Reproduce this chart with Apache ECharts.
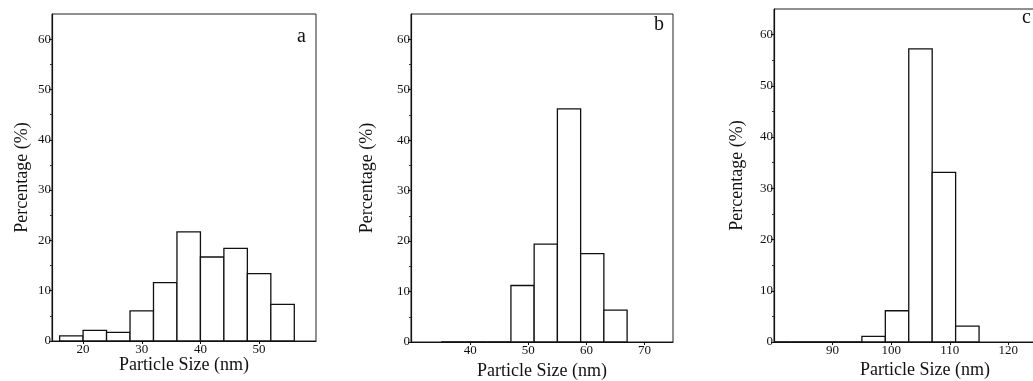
<!DOCTYPE html>
<html>
<head>
<meta charset="utf-8">
<script src="https://cdn.jsdelivr.net/npm/echarts@6/dist/echarts.min.js"></script>
<style>
html,body{margin:0;padding:0;background:#fff;}
#chart{width:1033px;height:381px;}
</style>
</head>
<body>
<div id="chart"></div>
<script>
// ---- data ----
var binWidth = 4;
// panel a
var aStarts = [16, 20, 24, 28, 32, 36, 40, 44, 48, 52];
var aValues = [1.0, 2.1, 1.7, 6.0, 11.6, 21.7, 16.7, 18.4, 13.4, 7.3];
var aTicks = [20, 30, 40, 50];
// panel b
var bStarts = [35, 39, 43, 47, 51, 55, 59, 63];
var bValues = [0, 0, 0, 11.2, 19.4, 46.2, 17.5, 6.3];
var bTicks = [40, 50, 60, 70];
// panel c
var cStarts = [79, 83, 87, 91, 95, 99, 103, 107, 111];
var cValues = [0, 0, 0, 0, 1.1, 6.1, 57.2, 33.1, 3.1];
var cTicks = [90, 100, 110, 120];
var yTicks = [0, 10, 20, 30, 40, 50, 60];
var panelLetters = ['a', 'b', 'c'];
var xTitle = 'Particle Size (nm)';
var yTitle = 'Percentage (%)';

var SERIF = '"Liberation Serif","DejaVu Serif",serif';

function toData(starts, values) {
  return starts.map(function (s, i) { return [s, s + binWidth, values[i]]; });
}

function renderBar(params, api) {
  var p0 = api.coord([api.value(0), api.value(2)]);
  var p1 = api.coord([api.value(1), 0]);
  var rect = { x: p0[0], y: p0[1], width: p1[0] - p0[0], height: p1[1] - p0[1] };
  var cs = params.coordSys;
  var clipped = echarts.graphic.clipRectByRect(rect, { x: cs.x, y: cs.y, width: cs.width, height: cs.height + 1 });
  if (!clipped) return;
  return {
    type: 'rect',
    shape: clipped,
    style: { fill: '#fff', stroke: '#111', lineWidth: 1.3 }
  };
}

var grids = [
  { left: 52, top: 14, right: 717, bottom: 40 },
  { left: 411, top: 14, right: 360, bottom: 39 },
  { left: 774, top: 9, right: -7, bottom: 39 }
];
var xRanges = [[14.7, 59.7], [29.8, 74.9], [80, 125.4]];
var tickSets = [aTicks, bTicks, cTicks];
var yGaps = [21, 35, 28];
var xGaps = [15, 20, 19];
var xPads = [[0, 0, 0, 0], [0, 0, 0, 0], [0, 0, 0, 36]];
var datas = [toData(aStarts, aValues), toData(bStarts, bValues), toData(cStarts, cValues)];

var option = {
  animation: false,
  backgroundColor: '#fff',
  grid: grids.map(function (g) {
    return Object.assign({ show: true, borderColor: '#222', borderWidth: 1, backgroundColor: 'transparent', containLabel: false, outerBoundsMode: 'none' }, g);
  }),
  xAxis: grids.map(function (g, i) {
    return {
      type: 'value', gridIndex: i, min: xRanges[i][0], max: xRanges[i][1],
      splitLine: { show: false },
      axisLine: { show: true, onZero: false, lineStyle: { color: '#111', width: 1.2 } },
      axisTick: { show: true, inside: false, length: 3, customValues: tickSets[i], lineStyle: { color: '#111' } },
      axisLabel: { customValues: tickSets[i], fontFamily: SERIF, fontSize: 13, color: '#111', margin: 2 },
      name: xTitle, nameLocation: 'middle', nameGap: xGaps[i], nameMoveOverlap: false,
      nameTextStyle: { fontFamily: SERIF, fontSize: 18, color: '#111', padding: xPads[i] }
    };
  }),
  yAxis: grids.map(function (g, i) {
    return {
      type: 'value', gridIndex: i, min: 0, max: 65, interval: 10,
      splitLine: { show: false },
      axisLine: { show: true, lineStyle: { color: '#111', width: 1.2 } },
      axisTick: { show: true, inside: false, length: 3, customValues: yTicks, lineStyle: { color: '#111' } },
      minorTick: { show: true, splitNumber: 2, length: 2, lineStyle: { color: '#333' } },
      axisLabel: { customValues: yTicks, fontFamily: SERIF, fontSize: 13, color: '#111', margin: 1 },
      name: yTitle, nameLocation: 'middle', nameGap: yGaps[i], nameMoveOverlap: false,
      nameTextStyle: { fontFamily: SERIF, fontSize: 18, color: '#111' }
    };
  }),
  graphic: [
    { type: 'text', left: 297, top: 27, style: { text: panelLetters[0], font: '20px ' + SERIF, fill: '#111' } },
    { type: 'text', left: 654, top: 15, style: { text: panelLetters[1], font: '20px ' + SERIF, fill: '#111' } },
    { type: 'text', left: 1022, top: 8, style: { text: panelLetters[2], font: '20px ' + SERIF, fill: '#111' } }
  ],
  series: datas.map(function (d, i) {
    return {
      type: 'custom', xAxisIndex: i, yAxisIndex: i,
      renderItem: renderBar,
      encode: { x: [0, 1], y: 2 },
      data: d
    };
  })
};

var chart = echarts.init(document.getElementById('chart'), null, { renderer: 'canvas' });
chart.setOption(option);
</script>
</body>
</html>
